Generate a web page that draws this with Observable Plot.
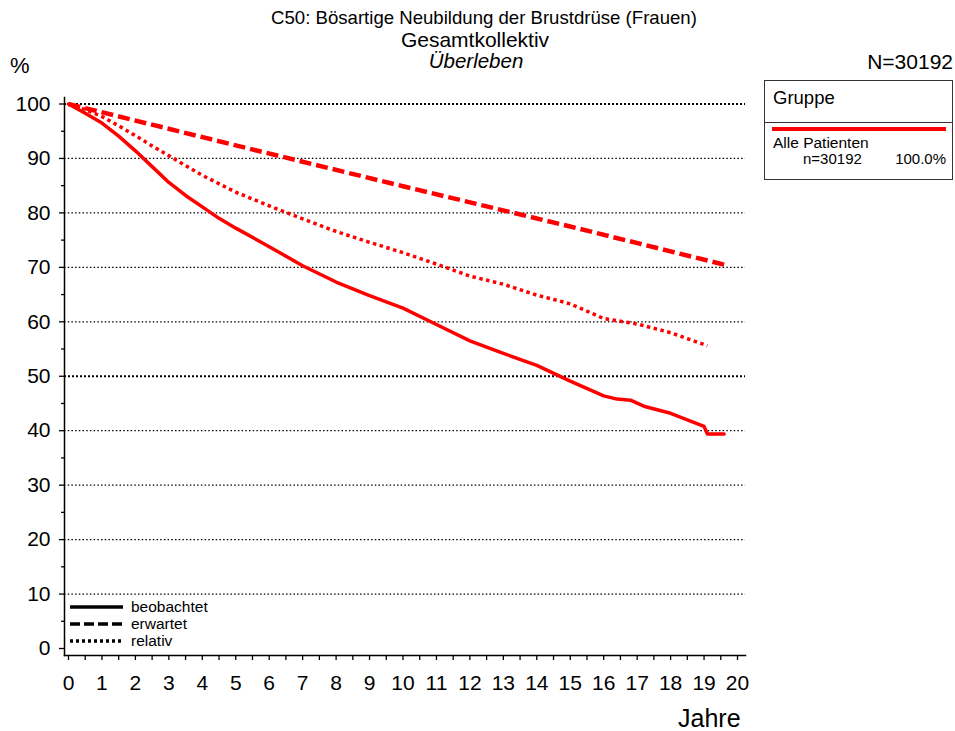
<!DOCTYPE html>
<html>
<head>
<meta charset="utf-8">
<script src="https://cdn.jsdelivr.net/npm/d3@7"></script>
<script src="https://cdn.jsdelivr.net/npm/@observablehq/plot@0.6"></script>
<style>
  html, body { margin: 0; padding: 0; background: #fff; }
  #wrap { position: relative; width: 955px; height: 731px; font-family: "Liberation Sans", Arial, sans-serif; color: #000; overflow: hidden; }
  .t { position: absolute; white-space: nowrap; line-height: 1; }
  #box { position: absolute; left: 764px; top: 80px; width: 187px; height: 98px; border: 1.5px solid #333; box-sizing: content-box; }
</style>
</head>
<body>
<div id="wrap"></div>
<script>
// ---- data ----
const titleLines = ["C50: Bösartige Neubildung der Brustdrüse (Frauen)", "Gesamtkollektiv", "Überleben"];
const nText = "N=30192";
const yUnit = "%";
const xLabel = "Jahre";
const groupTitle = "Gruppe";
const groupName = "Alle Patienten";
const groupN = "n=30192";
const groupPct = "100.0%";
const styleNames = ["beobachtet", "erwartet", "relativ"];

const xTicks = d3.range(0, 21, 1);
const xMinor = d3.range(0.5, 20, 1);
const yTicks = d3.range(0, 101, 10);
const yMinor = d3.range(5, 100, 10);
const gridThick = [50, 100];
const gridThin = [10, 20, 30, 40, 60, 70, 80, 90];

const obsT = [0, 0.5, 1, 1.5, 2, 2.5, 3, 3.5, 4, 4.5, 5, 6, 7, 8, 9, 10, 11, 12, 13, 14, 15, 16, 16.4, 16.8, 17.2, 18, 19, 19.1, 19.6];
const obsS = [100, 98.3, 96.5, 94.1, 91.4, 88.5, 85.6, 83.2, 81.1, 79.0, 77.2, 73.8, 70.3, 67.3, 64.8, 62.5, 59.5, 56.5, 54.2, 52.0, 49.1, 46.4, 45.8, 45.6, 44.5, 43.2, 40.8, 39.4, 39.4];

const expT = [0, 5, 10, 15, 19.6];
const expS = [100, 92.4, 84.9, 77.5, 70.5];

const relT = [0, 0.5, 1, 1.5, 2, 2.5, 3, 4, 5, 6, 7, 8, 9, 10, 11, 12, 13, 14, 15, 16, 16.5, 17, 18, 19.1];
const relS = [100, 99.0, 97.7, 96.0, 94.2, 92.3, 90.5, 86.9, 83.8, 81.3, 78.9, 76.6, 74.6, 72.7, 70.6, 68.4, 66.9, 64.9, 63.3, 60.6, 60.1, 59.6, 58.0, 55.6];

const obs = obsT.map((t, i) => ({t, s: obsS[i]}));
const exp = expT.map((t, i) => ({t, s: expS[i]}));
const rel = relT.map((t, i) => ({t, s: relS[i]}));

const RED = "#ff0000";
const FONT = "'Liberation Sans', Arial, sans-serif";

const chart = Plot.plot({
  width: 955,
  height: 731,
  marginLeft: 64,
  marginRight: 210,
  marginTop: 97,
  marginBottom: 76,
  style: {fontFamily: FONT, fontSize: "21px", background: "transparent", color: "#000"},
  x: {domain: [0, 20], insetLeft: 4, insetRight: 8},
  y: {domain: [0, 100], insetTop: 6.5, insetBottom: 7},
  marks: [
    Plot.ruleY(gridThin, {y: d => d, stroke: "#000", strokeWidth: 1.3, strokeDasharray: "1.5,2.2"}),
    Plot.ruleY(gridThick, {y: d => d, stroke: "#000", strokeWidth: 2, strokeDasharray: "2,2"}),
    Plot.frame({anchor: "left", stroke: "#000", strokeWidth: 1.5}),
    Plot.frame({anchor: "bottom", stroke: "#000", strokeWidth: 1.5}),
    Plot.axisY({ticks: yTicks, tickSize: 5, tickPadding: 9, fontSize: 21, label: null, strokeWidth: 1.3}),
    Plot.axisY({ticks: yMinor, tickSize: 3, tickFormat: () => "", label: null, strokeWidth: 1.3}),
    Plot.axisX({ticks: xTicks, tickSize: 5, tickPadding: 15, fontSize: 21, label: null, strokeWidth: 1.3}),
    Plot.axisX({ticks: xMinor, tickSize: 5, tickFormat: () => "", label: null, strokeWidth: 1.3}),
    Plot.line(exp, {x: "t", y: "s", stroke: RED, strokeWidth: 4.5, strokeDasharray: "12,5", strokeLinecap: "butt"}),
    Plot.line(rel, {x: "t", y: "s", stroke: RED, strokeWidth: 3.5, strokeDasharray: "3.5,3.5", strokeLinecap: "butt"}),
    Plot.line(obs, {x: "t", y: "s", stroke: RED, strokeWidth: 3.5, curve: "linear"})
  ]
});

const wrap = document.getElementById("wrap");
chart.style.position = "absolute";
chart.style.left = "0px";
chart.style.top = "0px";
wrap.appendChild(chart);

function addText(txt, css) {
  const d = document.createElement("div");
  d.className = "t";
  d.textContent = txt;
  Object.assign(d.style, css);
  wrap.appendChild(d);
  return d;
}
// titles
addText(titleLines[0], {left: "0px", width: "968px", textAlign: "center", top: "9px", fontSize: "18.6px"});
addText(titleLines[1], {left: "0px", width: "950px", textAlign: "center", top: "29px", fontSize: "21px"});
addText(titleLines[2], {left: "0px", width: "952px", textAlign: "center", top: "51px", fontSize: "20.5px", fontStyle: "italic"});
addText(yUnit, {left: "10px", top: "55px", fontSize: "22px"});
addText(nText, {right: "2px", top: "51px", fontSize: "21px"});
addText(xLabel, {left: "678px", top: "706px", fontSize: "25px"});

// group legend box
const box = document.createElement("div");
box.id = "box";
wrap.appendChild(box);
const sep = document.createElement("div");
Object.assign(sep.style, {position: "absolute", left: "0", top: "41px", width: "100%", borderTop: "1.5px solid #333"});
box.appendChild(sep);
const redLine = document.createElement("div");
Object.assign(redLine.style, {position: "absolute", left: "7px", top: "46px", width: "174px", height: "4px", background: RED});
box.appendChild(redLine);
addText(groupTitle, {left: "773px", top: "89px", fontSize: "18.5px"});
addText(groupName, {left: "773px", top: "135px", fontSize: "15.5px"});
addText(groupN, {left: "803px", top: "151px", fontSize: "15px"});
addText(groupPct, {right: "9px", top: "151px", fontSize: "15px"});

// line-style legend
const leg = d3.select(wrap).append("svg")
  .attr("width", 200).attr("height", 60)
  .style("position", "absolute").style("left", "60px").style("top", "597px");
const dashes = [null, "10,4", "3,3"];
styleNames.forEach((name, i) => {
  const y = 10 + i * 17;
  leg.append("line").attr("x1", 10).attr("x2", 63).attr("y1", y).attr("y2", y)
    .attr("stroke", "#000").attr("stroke-width", 3.5)
    .attr("stroke-dasharray", dashes[i]);
  leg.append("text").attr("x", 71).attr("y", y + 5).text(name)
    .style("font-family", FONT).style("font-size", "15.5px");
});
</script>
</body>
</html>
